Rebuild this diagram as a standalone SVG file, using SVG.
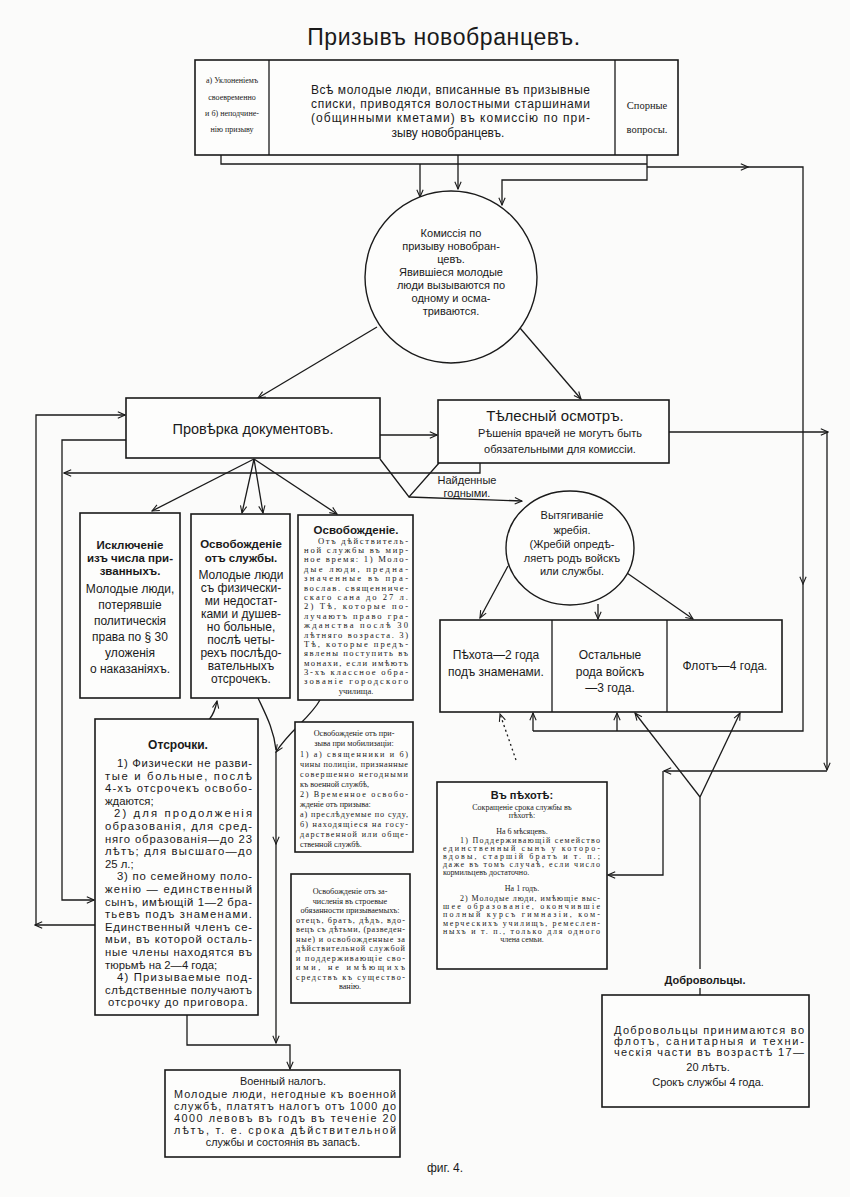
<svg xmlns="http://www.w3.org/2000/svg" width="850" height="1197" viewBox="0 0 850 1197">
<defs>
<style>
.s{font-family:"Liberation Sans","DejaVu Sans",sans-serif;fill:#1a1a1a}
.r{font-family:"Liberation Serif","DejaVu Serif",serif;fill:#1a1a1a}
.c{text-anchor:middle}
.b{font-weight:bold}
.box{fill:#fdfdfc;stroke:#1a1a1a;stroke-width:1.6}
.ln{fill:none;stroke:#1a1a1a;stroke-width:1.3}
.ar{marker-end:url(#a)}
</style>
<marker id="a" viewBox="0 0 10 10" refX="9" refY="5" markerWidth="9" markerHeight="9" orient="auto" markerUnits="userSpaceOnUse"><path d="M1,1.5 L9,5 L1,8.5" fill="none" stroke="#1a1a1a" stroke-width="1.2"/></marker>
</defs>
<rect width="850" height="1197" fill="#fbfbfa"/>

<text class="s c" x="444" y="45" font-size="23" letter-spacing="0.6">Призывъ новобранцевъ.</text>

<g id="connectors">
<path class="ln" d="M221,155 V164 H647"/>
<path class="ln ar" d="M647,155 V180 H502 V205"/>
<path class="ln ar" d="M458,155 V189"/>
<path class="ln ar" d="M420,164 V197"/>
<path class="ln ar" d="M647,167 H748"/>
<path class="ln ar" d="M748,167 H803 V584"/>
<path class="ln" d="M803,584 V731 H533"/>
<path class="ln ar" d="M533,731 V713"/>
<path class="ln ar" d="M617,731 V713"/>
<path class="ln ar" d="M377,327 L258,398"/>
<path class="ln ar" d="M520,328 L581,399"/>
<path class="ln ar" d="M380,435 H437"/>
<path class="ln ar" d="M669,432 H828"/>
<path class="ln ar" d="M827,432 V770"/>
<path class="ln ar" d="M827,771 H664"/>
<path class="ln ar" d="M663,771 V875 H608"/>
<path class="ln ar" d="M254,459 L152,511"/>
<path class="ln ar" d="M254,459 L242,513"/>
<path class="ln ar" d="M254,459 L263,513"/>
<path class="ln ar" d="M254,459 L337,514"/>
<path class="ln" d="M380,459 L409,497 L439,463"/>
<path class="ln ar" d="M409,497 L522,501"/>
<path class="ln ar" d="M480,463 V473 H64"/>
<path class="ln ar" d="M126,440 H62 V900 H94"/>
<path class="ln ar" d="M95,925 H35"/>
<path class="ln ar" d="M36,925 V415 H125"/>
<path class="ln ar" d="M508,566 L480,618"/>
<path class="ln ar" d="M598,604 V619"/>
<path class="ln ar" d="M627,573 L693,619"/>
<path class="ln ar" d="M103,768 C98,740 110,730 135,728 L192,727 C208,726 214,716 217,701"/>
<path class="ln" d="M258,698 C266,715 274,730 276,750"/>
<path class="ln ar" d="M320,700 C310,718 290,730 276,752"/>
<path class="ln ar" d="M276,752 V844"/>
<path class="ln ar" d="M276,843 V1043"/>
<path class="ln ar" d="M187,1015 V1045 H290 V1069"/>
<path class="ln ar" d="M516,760 L500,714" stroke-dasharray="2,3"/>
<path class="ln ar" d="M700,797 L635,713"/>
<path class="ln ar" d="M700,797 L740,713"/>
<path class="ln" d="M700,797 V969 M700,988 V995"/>
</g>

<g id="top">
<rect class="box" x="195" y="60" width="483" height="95"/>
<line class="ln" x1="269" y1="60" x2="269" y2="155" stroke-width="1.6"/>
<line class="ln" x1="615" y1="60" x2="615" y2="155" stroke-width="1.6"/>
<g class="r c" font-size="8">
<text x="232" y="83">а) Уклоненіемъ</text>
<text x="232" y="100">своевременно</text>
<text x="232" y="116">и б) неподчине-</text>
<text x="232" y="132">нію призыву</text>
</g>
<g class="s" font-size="12">
<text x="311" y="94" textLength="279" lengthAdjust="spacing">Всѣ молодые люди, вписанные въ призывные</text>
<text x="311" y="108" textLength="279" lengthAdjust="spacing">списки, приводятся волостными старшинами</text>
<text x="311" y="122" textLength="279" lengthAdjust="spacing">(общинными кметами) въ комиссію по при-</text>
<text class="c" x="448" y="137">зыву новобранцевъ.</text>
</g>
<g class="r c" font-size="10.5">
<text x="647" y="109">Спорные</text>
<text x="647" y="133">вопросы.</text>
</g>
</g>

<g id="commission">
<circle cx="451" cy="277" r="86" fill="#fdfdfc" stroke="#1a1a1a" stroke-width="1.4"/>
<g class="s c" font-size="11">
<text x="451" y="237">Комиссія по</text>
<text x="451" y="250">призыву новобран-</text>
<text x="451" y="263">цевъ.</text>
<text x="451" y="276">Явившіеся молодые</text>
<text x="451" y="289">люди вызываются по</text>
<text x="451" y="302">одному и осма-</text>
<text x="451" y="315">триваются.</text>
</g>
</g>

<g id="docs">
<rect class="box" x="126" y="398" width="254" height="60"/>
<text class="s c" x="253" y="434" font-size="14.5">Провѣрка документовъ.</text>
</g>

<g id="medical">
<rect class="box" x="438" y="400" width="231" height="63"/>
<text class="s c" x="555" y="421" font-size="15">Тѣлесный осмотръ.</text>
<text class="s c" x="560" y="437" font-size="11">Рѣшенія врачей не могутъ быть</text>
<text class="s c" x="560" y="453" font-size="11">обязательными для комиссіи.</text>
</g>

<g id="found">
<text class="s c" x="467" y="484" font-size="11">Найденные</text>
<text class="s c" x="467" y="497" font-size="11">годными.</text>
</g>

<g id="exclusion">
<rect class="box" x="80" y="513" width="100" height="185"/>
<g class="s c" font-size="11.5">
<text class="b" x="130" y="549">Исключеніе</text>
<text class="b" x="130" y="562">изъ числа при-</text>
<text class="b" x="130" y="575">званныхъ.</text>
</g>
<g class="s c" font-size="12">
<text x="130" y="593">Молодые люди,</text>
<text x="130" y="609">потерявшіе</text>
<text x="130" y="625">политическія</text>
<text x="130" y="641">права по § 30</text>
<text x="130" y="657">уложенія</text>
<text x="130" y="673">о наказаніяхъ.</text>
</g>
</g>

<g id="release-service">
<rect class="box" x="191" y="514" width="99" height="184"/>
<g class="s c" font-size="11.5">
<text class="b" x="241" y="548">Освобожденіе</text>
<text class="b" x="241" y="562">отъ службы.</text>
</g>
<g class="s c" font-size="12">
<text x="241" y="579">Молодые люди</text>
<text x="241" y="592">съ физически-</text>
<text x="241" y="605">ми недостат-</text>
<text x="241" y="618">ками и душев-</text>
<text x="241" y="631">но больные,</text>
<text x="241" y="644">послѣ четы-</text>
<text x="241" y="657">рехъ послѣдо-</text>
<text x="241" y="670">вательныхъ</text>
<text x="241" y="683">отсрочекъ.</text>
</g>
</g>

<g id="release">
<rect class="box" x="298" y="515" width="115" height="185"/>
<text class="s c b" x="356" y="534" font-size="11.5">Освобожденіе.</text>
<g class="r" font-size="8.6">
<text x="318" y="544" textLength="90" lengthAdjust="spacing">Отъ дѣйствитель-</text>
<text x="304" y="553" textLength="104" lengthAdjust="spacing">ной службы въ мир-</text>
<text x="304" y="562" textLength="104" lengthAdjust="spacing">ное время: 1) Моло-</text>
<text x="304" y="572" textLength="104" lengthAdjust="spacing">дые люди, предна-</text>
<text x="304" y="581" textLength="104" lengthAdjust="spacing">значенные въ пра-</text>
<text x="304" y="591" textLength="104" lengthAdjust="spacing">вослав. священниче-</text>
<text x="304" y="600" textLength="104" lengthAdjust="spacing">скаго сана до 27 л.</text>
<text x="304" y="609" textLength="104" lengthAdjust="spacing">2) Тѣ, которые по-</text>
<text x="304" y="619" textLength="104" lengthAdjust="spacing">лучаютъ право гра-</text>
<text x="304" y="628" textLength="104" lengthAdjust="spacing">жданства послѣ 30</text>
<text x="304" y="638" textLength="104" lengthAdjust="spacing">лѣтняго возраста. 3)</text>
<text x="304" y="647" textLength="104" lengthAdjust="spacing">Тѣ, которые предъ-</text>
<text x="304" y="656" textLength="104" lengthAdjust="spacing">явлены поступить въ</text>
<text x="304" y="666" textLength="104" lengthAdjust="spacing">монахи, если имѣютъ</text>
<text x="304" y="675" textLength="104" lengthAdjust="spacing">3-хъ классное обра-</text>
<text x="304" y="684" textLength="104" lengthAdjust="spacing">зованіе городского</text>
<text class="c" x="356" y="694">училища.</text>
</g>
</g>

<g id="lottery">
<ellipse cx="570" cy="548" rx="64" ry="57" fill="#fdfdfc" stroke="#1a1a1a" stroke-width="1.4"/>
<g class="s c" font-size="11">
<text x="572" y="519">Вытягиваніе</text>
<text x="572" y="534">жребія.</text>
<text x="572" y="548">(Жребій опредѣ-</text>
<text x="572" y="562">ляетъ родъ войскъ</text>
<text x="572" y="575">или службы.</text>
</g>
</g>

<g id="branches">
<rect class="box" x="440" y="620" width="342" height="92"/>
<line class="ln" x1="552" y1="620" x2="552" y2="712" stroke-width="1.6"/>
<line class="ln" x1="667" y1="620" x2="667" y2="712" stroke-width="1.6"/>
<g class="s c" font-size="12">
<text x="496" y="659">Пѣхота—2 года</text>
<text x="496" y="676">подъ знаменами.</text>
<text x="610" y="659">Остальные</text>
<text x="610" y="676">рода войскъ</text>
<text x="610" y="692">—3 года.</text>
<text x="725" y="670">Флотъ—4 года.</text>
</g>
</g>

<g id="deferments">
<rect class="box" x="95" y="719" width="163" height="296"/>
<text class="s c b" x="178" y="749" font-size="12">Отсрочки.</text>
<g class="s" font-size="11.3">
<text x="117" y="767" textLength="135" lengthAdjust="spacing">1) Физически не разви-</text>
<text x="105" y="779.6" textLength="147" lengthAdjust="spacing">тые и больные, послѣ</text>
<text x="105" y="792.2" textLength="147" lengthAdjust="spacing">4-хъ отсрочекъ освобо-</text>
<text x="105" y="804.8">ждаются;</text>
<text x="114" y="817.4" textLength="138" lengthAdjust="spacing">2) для продолженія</text>
<text x="105" y="830" textLength="147" lengthAdjust="spacing">образованія, для сред-</text>
<text x="105" y="842.6" textLength="147" lengthAdjust="spacing">няго образованія—до 23</text>
<text x="105" y="855.2" textLength="147" lengthAdjust="spacing">лѣтъ; для высшаго—до</text>
<text x="105" y="867.8">25 л.;</text>
<text x="117" y="880.4" textLength="135" lengthAdjust="spacing">3) по семейному поло-</text>
<text x="105" y="893" textLength="147" lengthAdjust="spacing">женію — единственный</text>
<text x="105" y="905.6" textLength="147" lengthAdjust="spacing">сынъ, имѣющій 1—2 бра-</text>
<text x="105" y="918.2" textLength="147" lengthAdjust="spacing">тьевъ подъ знаменами.</text>
<text x="105" y="930.8" textLength="147" lengthAdjust="spacing">Единственный членъ се-</text>
<text x="105" y="943.4" textLength="147" lengthAdjust="spacing">мьи, въ которой осталь-</text>
<text x="105" y="956" textLength="147" lengthAdjust="spacing">ные члены находятся въ</text>
<text x="105" y="968.6">тюрьмѣ на 2—4 года;</text>
<text x="117" y="981.2" textLength="135" lengthAdjust="spacing">4) Призываемые под-</text>
<text x="105" y="993.8" textLength="147" lengthAdjust="spacing">слѣдственные получаютъ</text>
<text x="108" y="1006.4" textLength="140" lengthAdjust="spacing">отсрочку до приговора.</text>
</g>
</g>

<g id="mobilization">
<rect class="box" x="295" y="722" width="118" height="130"/>
<g class="r" font-size="8.2">
<text class="c" x="354" y="736">Освобожденіе отъ при-</text>
<text class="c" x="354" y="746">зыва при мобилизаціи:</text>
<text x="300" y="757" textLength="108" lengthAdjust="spacing">1) а) священники и б)</text>
<text x="300" y="767" textLength="108" lengthAdjust="spacing">чины полиціи, признанные</text>
<text x="300" y="777" textLength="108" lengthAdjust="spacing">совершенно негодными</text>
<text x="300" y="787">къ военной службѣ,</text>
<text x="300" y="797" textLength="108" lengthAdjust="spacing">2) Временное освобо-</text>
<text x="300" y="807">жденіе отъ призыва:</text>
<text x="300" y="817" textLength="108" lengthAdjust="spacing">а) преслѣдуемые по суду,</text>
<text x="300" y="827" textLength="108" lengthAdjust="spacing">б) находящіеся на госу-</text>
<text x="300" y="837" textLength="108" lengthAdjust="spacing">дарственной или обще-</text>
<text x="300" y="847">ственной службѣ.</text>
</g>
</g>

<g id="family">
<rect class="box" x="291" y="874" width="119" height="129"/>
<g class="r" font-size="8.2">
<text class="c" x="350" y="894">Освобожденіе отъ за-</text>
<text class="c" x="350" y="903.5">численія въ строевые</text>
<text class="c" x="350" y="913">обязанности призываемыхъ:</text>
<text x="296" y="922.5" textLength="109" lengthAdjust="spacing">отецъ, братъ, дѣдъ, вдо-</text>
<text x="296" y="932" textLength="109" lengthAdjust="spacing">вецъ съ дѣтьми, (разведен-</text>
<text x="296" y="941.5" textLength="109" lengthAdjust="spacing">ные) и освобожденные за</text>
<text x="296" y="951" textLength="109" lengthAdjust="spacing">дѣйствительной службой</text>
<text x="296" y="960.5" textLength="109" lengthAdjust="spacing">и поддерживающіе сво-</text>
<text x="296" y="970" textLength="109" lengthAdjust="spacing">ими, не имѣющихъ</text>
<text x="296" y="979.5" textLength="109" lengthAdjust="spacing">средствъ къ существо-</text>
<text class="c" x="350" y="989">ванію.</text>
</g>
</g>

<g id="infantry">
<rect class="box" x="437" y="782" width="170" height="187"/>
<text class="s c b" x="522" y="799" font-size="11">Въ пѣхотѣ:</text>
<g class="r" font-size="8">
<text class="c" x="522" y="810">Сокращеніе срока службы въ</text>
<text class="c" x="522" y="818">пѣхотѣ:</text>
<text class="c" x="522" y="834">На 6 мѣсяцевъ.</text>
<text x="460" y="843" textLength="140" lengthAdjust="spacing">1) Поддерживающій семейство</text>
<text x="443" y="851" textLength="157" lengthAdjust="spacing">единственный сынъ у которо-</text>
<text x="443" y="859" textLength="157" lengthAdjust="spacing">вдовы, старшій братъ и т. п.;</text>
<text x="443" y="867" textLength="157" lengthAdjust="spacing">даже въ томъ случаѣ, если число</text>
<text x="443" y="875">кормильцевъ достаточно.</text>
<text class="c" x="522" y="891">На 1 годъ.</text>
<text x="460" y="901" textLength="140" lengthAdjust="spacing">2) Молодые люди, имѣющіе выс-</text>
<text x="443" y="909" textLength="157" lengthAdjust="spacing">шее образованіе, окончившіе</text>
<text x="443" y="917" textLength="157" lengthAdjust="spacing">полный курсъ гимназіи, ком-</text>
<text x="443" y="926" textLength="157" lengthAdjust="spacing">мерческихъ училищъ, ремеслен-</text>
<text x="443" y="934" textLength="157" lengthAdjust="spacing">ныхъ и т. п., только для одного</text>
<text class="c" x="522" y="942">члена семьи.</text>
</g>
</g>

<g id="volunteers">
<text class="s c b" x="705" y="984" font-size="11">Добровольцы.</text>
<rect class="box" x="602" y="995" width="207" height="112"/>
<g class="s" font-size="11">
<text x="614" y="1034" textLength="190" lengthAdjust="spacing">Добровольцы принимаются во</text>
<text x="614" y="1045" textLength="190" lengthAdjust="spacing">флотъ, санитарныя и техни-</text>
<text x="614" y="1056" textLength="190" lengthAdjust="spacing">ческія части въ возрастѣ 17—</text>
<text class="c" x="708" y="1071">20 лѣтъ.</text>
<text class="c" x="708" y="1086">Срокъ службы 4 года.</text>
</g>
</g>

<g id="tax">
<rect class="box" x="165" y="1070" width="235" height="87"/>
<g class="s" font-size="10.8">
<text class="c" x="283" y="1085">Военный налогъ.</text>
<text x="174" y="1097.5" textLength="222" lengthAdjust="spacing">Молодые люди, негодные къ военной</text>
<text x="174" y="1109.5" textLength="222" lengthAdjust="spacing">службѣ, платятъ налогъ отъ 1000 до</text>
<text x="174" y="1121.5" textLength="222" lengthAdjust="spacing">4000 левовъ въ годъ въ теченіе 20</text>
<text x="174" y="1133.5" textLength="222" lengthAdjust="spacing">лѣтъ, т. е. срока дѣйствительной</text>
<text class="c" x="283" y="1146">службы и состоянія въ запасѣ.</text>
</g>
</g>

<text class="s c" x="445" y="1172" font-size="12">фиг. 4.</text>
</svg>
